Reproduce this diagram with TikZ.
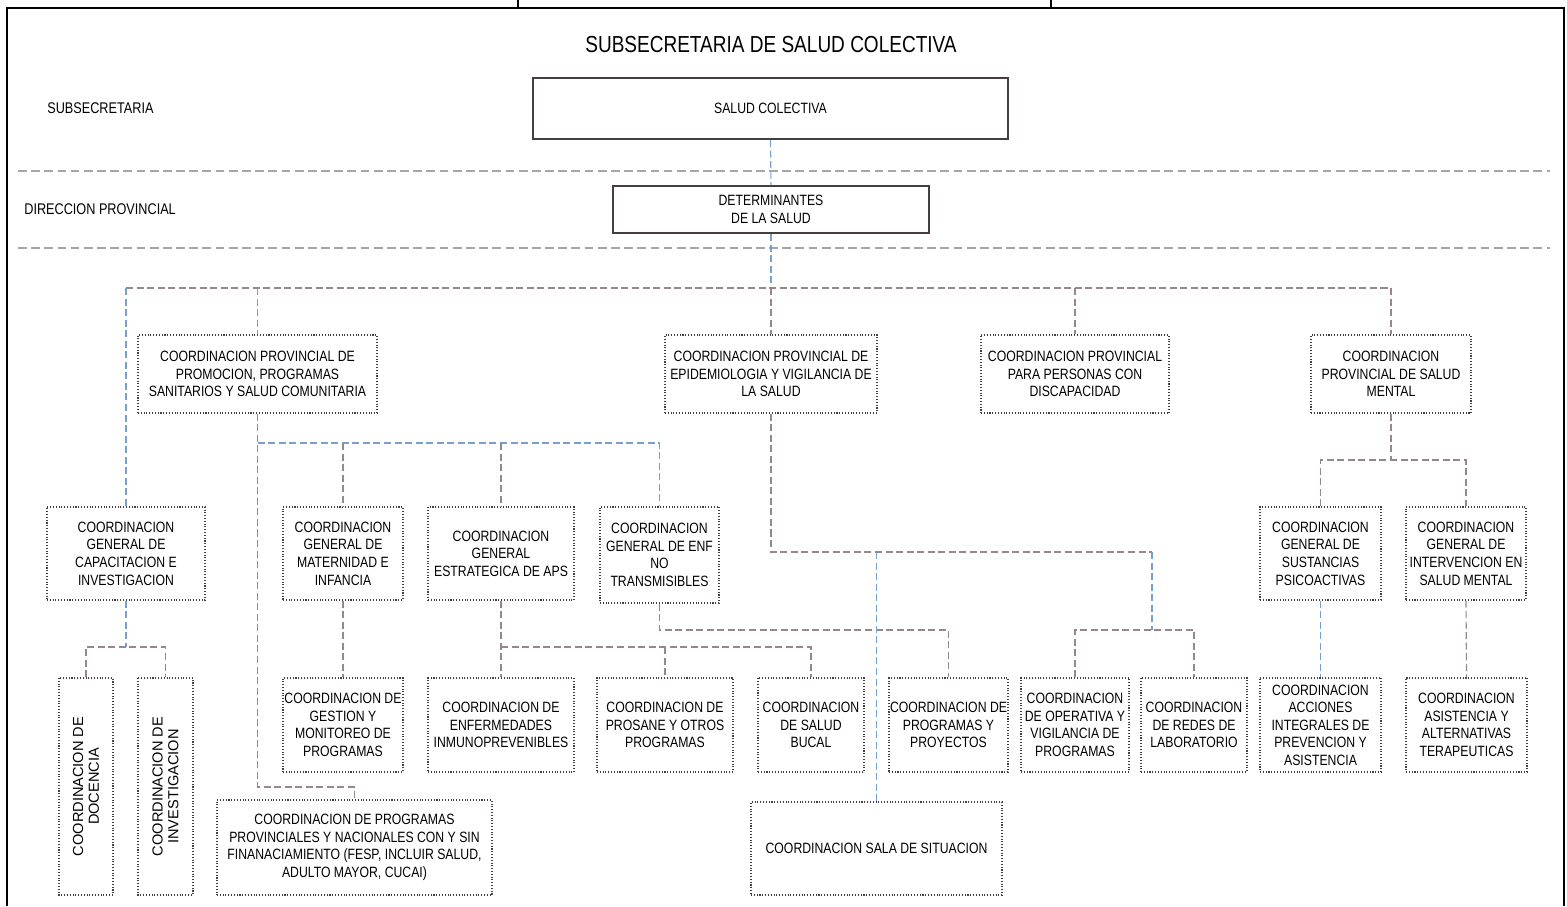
\documentclass[tikz,border=0pt]{standalone}
\usepackage{fontspec}
\setmainfont[FakeStretch=0.82]{Liberation Sans}
\newfontfamily\widesans{Liberation Sans}
\usetikzlibrary{positioning}
\definecolor{linkgray}{RGB}{150,136,136}
\definecolor{linkblue}{RGB}{120,160,205}
\definecolor{boxline}{RGB}{70,62,62}
\begin{document}
\begin{tikzpicture}[x=.02cm,y=-.02cm,
  sz/.style 2 args={minimum width=#1*.02cm,minimum height=#2*.02cm},
  head/.style={draw=boxline,line width=1.1pt,inner sep=0pt,align=center,
    font=\fontsize{8.5}{10}\selectfont},
  unit/.style={draw=boxline,densely dotted,line width=.6pt,inner sep=0pt,align=center,
    font=\fontsize{8.5}{10}\selectfont},
  turned/.style={unit,rotate=90,font=\widesans\fontsize{8.3}{9}\selectfont},
  level/.style={anchor=west,inner sep=0pt,font=\fontsize{8.8}{10}\selectfont},
  link/.style={draw=linkgray,line width=.65pt,dash pattern=on 4pt off 2pt},
  blink/.style={link,draw=linkblue},
  sepline/.style={draw=gray!70,line width=1.1pt,dash pattern=on 5pt off 2.5pt}]
  \useasboundingbox (0,0) rectangle (1567,906);
  \draw[line width=1.1pt] (7,906)--(7,8)--(1564,8)--(1564,906);
  \draw[line width=1.1pt] (518,0)--(518,8) (1051,0)--(1051,8);
  \draw[sepline] (18,171)--(1550,171);
  \draw[sepline] (18,248)--(1550,248);

  \node[font=\fontsize{13.2}{15}\selectfont] (title) at (771,45) {SUBSECRETARIA DE SALUD COLECTIVA};
  \node[level] (lvlsub) at (47,108) {SUBSECRETARIA};
  \node[level] (lvldir) at (24,209) {DIRECCION PROVINCIAL};

  \node[head,sz={475}{61}] (salud) at (770.5,108.5) {SALUD COLECTIVA};
  \node[head,sz={316}{47}] (det) at (771,209.5) {DETERMINANTES\\DE LA SALUD};

  \node[unit,sz={239}{78}] (promo) at (257.5,374) {COORDINACION PROVINCIAL DE\\PROMOCION, PROGRAMAS\\SANITARIOS Y SALUD COMUNITARIA};
  \node[unit,sz={212}{78}] (epi) at (771,374) {COORDINACION PROVINCIAL DE\\EPIDEMIOLOGIA Y VIGILANCIA DE\\LA SALUD};
  \node[unit,sz={188}{78}] (disc) at (1075,374) {COORDINACION PROVINCIAL\\PARA PERSONAS CON\\DISCAPACIDAD};
  \node[unit,sz={160}{78}] (mental) at (1391,374) {COORDINACION\\PROVINCIAL DE SALUD\\MENTAL};

  \node[unit,sz={158}{93}] (cap) at (126,553.5) {COORDINACION\\GENERAL DE\\CAPACITACION E\\INVESTIGACION};
  \node[unit,sz={120}{93}] (mat) at (343,553.5) {COORDINACION\\GENERAL DE\\MATERNIDAD E\\INFANCIA};
  \node[unit,sz={146}{93}] (aps) at (501,553.5) {COORDINACION\\GENERAL\\ESTRATEGICA DE APS};
  \node[unit,sz={119}{96}] (enf) at (659.5,555) {COORDINACION\\GENERAL DE ENF\\NO\\TRANSMISIBLES};
  \node[unit,sz={121}{93}] (sust) at (1320.5,553.5) {COORDINACION\\GENERAL DE\\SUSTANCIAS\\PSICOACTIVAS};
  \node[unit,sz={120}{93}] (interv) at (1466,553.5) {COORDINACION\\GENERAL DE\\INTERVENCION EN\\SALUD MENTAL};

  \node[turned,sz={217}{54}] (doc) at (86,786.5) {COORDINACION DE\\DOCENCIA};
  \node[turned,sz={217}{55}] (inv) at (165.5,786.5) {COORDINACION DE\\INVESTIGACION};
  \node[unit,sz={120}{94}] (gest) at (343,725) {COORDINACION DE\\GESTION Y\\MONITOREO DE\\PROGRAMAS};
  \node[unit,sz={146}{94}] (inmu) at (501,725) {COORDINACION DE\\ENFERMEDADES\\INMUNOPREVENIBLES};
  \node[unit,sz={136}{94}] (prosane) at (665,725) {COORDINACION DE\\PROSANE Y OTROS\\PROGRAMAS};
  \node[unit,sz={106}{94}] (bucal) at (811,725) {COORDINACION\\DE SALUD\\BUCAL};
  \node[unit,sz={119}{94}] (proy) at (948.5,725) {COORDINACION DE\\PROGRAMAS Y\\PROYECTOS};
  \node[unit,sz={108}{94}] (oper) at (1075,725) {COORDINACION\\DE OPERATIVA Y\\VIGILANCIA DE\\PROGRAMAS};
  \node[unit,sz={106}{94}] (redes) at (1194,725) {COORDINACION\\DE REDES DE\\LABORATORIO};
  \node[unit,sz={121}{94}] (acc) at (1320.5,725) {COORDINACION\\ACCIONES\\INTEGRALES DE\\PREVENCION Y\\ASISTENCIA};
  \node[unit,sz={121}{94}] (asist) at (1466.5,725) {COORDINACION\\ASISTENCIA Y\\ALTERNATIVAS\\TERAPEUTICAS};

  \node[unit,sz={275}{95}] (progs) at (354.5,847.5) {COORDINACION DE PROGRAMAS\\PROVINCIALES Y NACIONALES CON Y SIN\\FINANACIAMIENTO (FESP, INCLUIR SALUD,\\ADULTO MAYOR, CUCAI)};
  \node[unit,sz={251}{93}] (sala) at (876.5,848.5) {COORDINACION SALA DE SITUACION};

  \coordinate (bus) at (771,288);
  \draw[blink] (salud.south)--(det.north);
  \draw[blink] (det.south)--(bus);
  \draw[link] (cap.north |- bus)--(mental.north |- bus);
  \draw[blink] (cap.north |- bus)--(cap.north);
  \draw[blink] (promo.north |- bus)--(promo.north);
  \draw[link] (bus)--(epi.north);
  \draw[link] (disc.north |- bus)--(disc.north);
  \draw[link] (mental.north |- bus)--(mental.north);

  \coordinate (promobus) at (257.5,443);
  \coordinate (promoturn) at (257.5,787);
  \draw[link] (promo.south)--(promoturn) -| (progs.north);
  \draw[blink] (promobus) -| (enf.north);
  \draw[link] (promobus -| mat.north)--(mat.north);
  \draw[link] (promobus -| aps.north)--(aps.north);
  \draw[link] (mat.south)--(gest.north);

  \coordinate (apsbus) at (501,647);
  \draw[link] (aps.south)--(inmu.north);
  \draw[link] (apsbus) -| (bucal.north);
  \draw[link] (apsbus -| prosane.north)--(prosane.north);

  \coordinate (enfbus) at (659.5,630);
  \draw[link] (enf.south)--(enfbus) -| (proy.north);

  \coordinate (epibus) at (771,552);
  \coordinate (epiend) at (1152,552);
  \coordinate (labbus) at (1152,630);
  \draw[link] (epi.south)--(epibus)--(epiend);
  \draw[blink] (epiend)--(labbus);
  \draw[blink] (epibus -| sala.north)--(sala.north);
  \draw[link] (oper.north) |- (labbus) -| (redes.north);

  \coordinate (capbus) at (126,647);
  \draw[blink] (cap.south)--(capbus);
  \draw[link] (doc.east) |- (capbus) -| (inv.east);

  \coordinate (mentalbus) at (1391,460);
  \draw[link] (mental.south)--(mentalbus);
  \draw[link] (sust.north) |- (mentalbus) -| (interv.north);
  \draw[blink] (sust.south)--(acc.north);
  \draw[link] (interv.south)--(asist.north);
\end{tikzpicture}
\end{document}
